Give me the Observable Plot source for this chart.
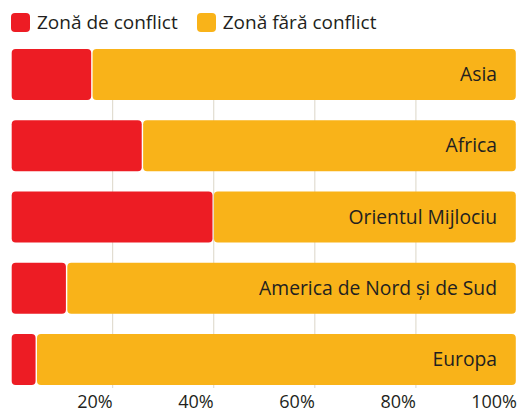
<!DOCTYPE html>
<html>
<head>
<meta charset="utf-8">
<script src="https://cdn.jsdelivr.net/npm/d3@7"></script>
<script src="https://cdn.jsdelivr.net/npm/@observablehq/plot@0.6"></script>
<style>
  html, body { margin: 0; padding: 0; background: #fff; }
  body { width: 517px; height: 412px; overflow: hidden; font-family: "Open Sans", Lato, sans-serif; color: #231f20; }
  #legend { height: 40px; display: flex; align-items: flex-start; padding-left: 11px; box-sizing: border-box; padding-top: 13px; }
  .item { display: flex; align-items: center; margin-right: 19px; font-size: 19px; line-height: 19px; }
  .sw { width: 19px; height: 19px; border-radius: 4px; margin-right: 7px; }
  svg { display: block; }
</style>
</head>
<body>
<div id="legend"></div>
<div id="chart"></div>
<script>
const categories = ["Asia", "Africa", "Orientul Mijlociu", "America de Nord și de Sud", "Europa"];
const seriesNames = ["Zonă de conflict", "Zonă fără conflict"];
const conflict = [16, 26, 40, 11, 5];
const noConflict = [84, 74, 60, 89, 95];
const tickValues = [20, 40, 60, 80, 100];
const tickLabels = ["20%", "40%", "60%", "80%", "100%"];
const colors = ["#ed1c24", "#f9b319"];

const rows = [];
categories.forEach((c, i) => {
  rows.push({region: c, type: seriesNames[0], value: conflict[i]});
  rows.push({region: c, type: seriesNames[1], value: noConflict[i]});
});

const legend = document.getElementById("legend");
seriesNames.forEach((s, i) => {
  const it = document.createElement("div");
  it.className = "item";
  it.innerHTML = `<div class="sw" style="background:${colors[i]}"></div><span>${s}</span>`;
  legend.appendChild(it);
});

const chart = Plot.plot({
  width: 517,
  height: 372,
  marginTop: 9,
  marginBottom: 27,
  marginLeft: 11,
  marginRight: 0.5,
  style: {fontFamily: "'Open Sans', Lato, sans-serif", color: "#231f20", background: "#fff"},
  x: {domain: [0, 100], axis: null, label: null},
  y: {domain: categories, axis: null, paddingInner: 0.285, paddingOuter: 0, round: false},
  color: {domain: seriesNames, range: colors},
  marks: [
    Plot.ruleX(tickValues.slice(0, 4), {stroke: "#e2ddd1", strokeWidth: 1.2, insetBottom: -3}),
    Plot.barX(rows, Plot.stackX({x: "value", y: "region", fill: "type", rx: 4, insetLeft: 0.7, insetRight: 0.7})),
    Plot.text(categories, {x: 100, y: d => d, text: d => d, textAnchor: "end", dx: -20, fontSize: 19.3, fill: "#231f20"}),
    Plot.axisX({ticks: tickValues, tickFormat: d => tickLabels[tickValues.indexOf(d)], tickSize: 0, tickPadding: 10, textAnchor: "end", fontSize: 18, fill: "#231f20", label: null})
  ]
});
document.getElementById("chart").appendChild(chart);
</script>
</body>
</html>
